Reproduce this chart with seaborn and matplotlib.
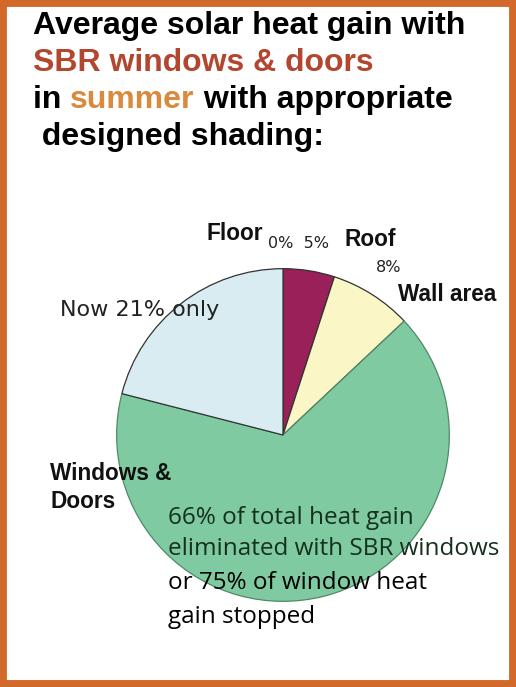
import matplotlib
matplotlib.use("Agg")
import matplotlib.pyplot as plt
import seaborn as sns

sns.set_theme(style="white")
plt.rcParams['font.family'] = ['Liberation Sans', 'DejaVu Sans']

# slice data, clockwise from 12 o'clock
parts = ['Floor', 'Roof', 'Wall area', 'Windows eliminated', 'Windows now']
shares = [0, 5, 8, 66, 21]
slice_colors = ['#5a5a5a', '#9a2059', '#faf6c6', '#7fcaa0', '#d8ecf1']
edge_colors = ['#333333', '#333333', '#333333', '#4f8a68', '#333333']

W, H = 516, 687
fig = plt.figure(figsize=(W / 100, H / 100), dpi=100)
fig.patch.set_facecolor('white')


def px(x, y):
    return x / W, 1 - y / H


# orange frame
frame = plt.Rectangle((0, 0), 1, 1, transform=fig.transFigure, fill=False,
                      edgecolor='#d2692a', linewidth=10, zorder=10)
fig.add_artist(frame)

# pie
cx, cy, r = 283, 435, 168
ax = fig.add_axes([(cx - r) / W, (H - cy - r) / H, 2 * r / W, 2 * r / H])
wedges, _ = ax.pie(shares, colors=slice_colors, startangle=90, counterclock=False,
                   radius=1, wedgeprops=dict(linewidth=0.9))
for w, ec in zip(wedges, edge_colors):
    w.set_edgecolor(ec)
ax.set_xlim(-1.01, 1.01)
ax.set_ylim(-1.01, 1.01)
ax.set_aspect('equal')
ax.axis('off')

# title, drawn piece by piece so colours can change mid line
title_lines = [
    [("Average solar heat gain with", 'black')],
    [("SBR windows & doors", '#b2462e')],
    [("in ", 'black'), ("summer", '#d98a3c'), (" with appropriate", 'black')],
    [(" designed shading:", 'black')],
]
title_y = [26, 63, 100, 137]
fig.canvas.draw()
renderer = fig.canvas.get_renderer()
for pieces, ty in zip(title_lines, title_y):
    x = 33
    for txt, col in pieces:
        t = fig.text(*px(x, ty), txt, color=col, fontsize=23, fontweight='bold',
                     va='center', ha='left')
        bb = t.get_window_extent(renderer)
        x += bb.width

# slice labels
bold = dict(fontweight='bold', fontsize=16.3, color='#111111', va='center', ha='left')
fig.text(*px(207, 233), 'Floor', **bold)
fig.text(*px(344, 240), 'Roof', **bold)
fig.text(*px(398, 295), 'Wall area', **bold)
fig.text(*px(50, 473), 'Windows &', **bold)
fig.text(*px(50, 502), 'Doors', **bold)

pct = dict(fontsize=11.5, color='#222222', va='center', ha='left', family='DejaVu Sans')
fig.text(*px(268, 243), f'{shares[0]}%  {shares[1]}%', **pct)
fig.text(*px(376, 268), f'{shares[2]}%', **pct)

fig.text(*px(60, 310), f'Now {shares[4]}% only', fontsize=16, color='#222222',
         va='center', ha='left', family='DejaVu Sans')

# note over the green slice
note = [
    (f'{shares[3]}% of total heat gain', '#15301f', 518),
    ('eliminated with SBR windows', '#15301f', 549),
    ('or 75% of window heat', 'black', 583),
    ('gain stopped', 'black', 617),
]
for txt, col, ny in note:
    fig.text(*px(168, ny), txt, fontsize=17.5, color=col, va='center', ha='left',
             family='Open Sans')

fig.savefig('out.png', dpi=100)
